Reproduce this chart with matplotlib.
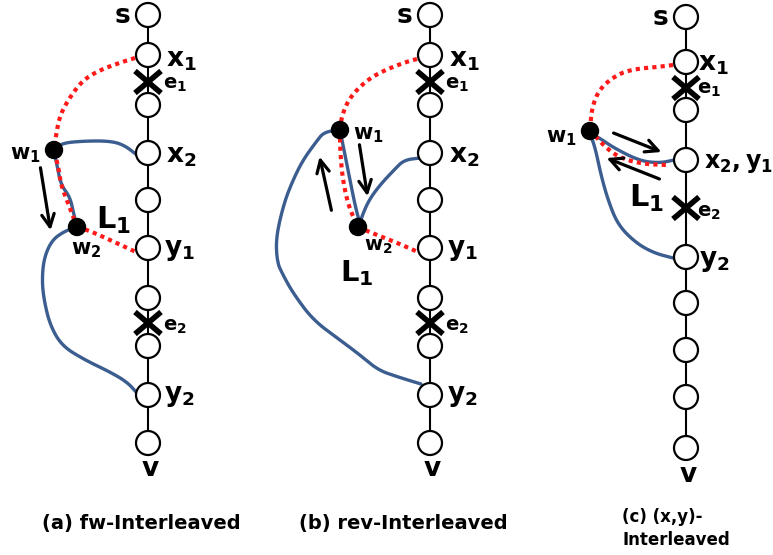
import matplotlib
matplotlib.use("Agg")
import matplotlib.pyplot as plt
from matplotlib.patches import Circle

plt.rcParams['mathtext.fontset'] = 'dejavusans'
plt.rcParams['font.family'] = ['DejaVu Sans']

BLUE = '#3b5d8f'
RED = '#ff1a1a'

# vertical paths (x of spine, y of each node)
spine_x = [148, 430, 686]
nodes_a = [15, 55, 105, 153, 200, 248, 298, 346, 395, 443]
nodes_b = [15, 55, 105, 153, 200, 248, 298, 346, 395, 443]
nodes_c = [17, 62, 110, 160, 257, 303, 350, 397, 448]
crosses = [(148, 82), (148, 323), (430, 82), (430, 323), (686, 88), (686, 208)]

# detours, drawn as (x, y) pixel traces
red_a = [
    [(135, 58), (122, 62), (100, 70), (83, 80), (70, 97), (60, 115), (56, 135), (54, 152)],
    [(54, 152), (58, 165), (61, 185), (68, 203), (77, 227)],
    [(77, 227), (90, 231), (110, 240), (136, 252)],
]
blue_a = [
    [(54, 150), (62, 143), (85, 141), (110, 141), (124, 145), (137, 155)],
    [(54, 152), (57, 165), (61, 185), (70, 197), (74, 215), (77, 227)],
    [(77, 227), (65, 231), (52, 240), (44, 258), (42, 280), (44, 300), (50, 325),
     (62, 346), (85, 360), (110, 372), (127, 382), (137, 393)],
]
red_b = [
    [(417, 59), (406, 62), (385, 70), (367, 80), (350, 97), (342, 115), (340, 130)],
    [(340, 130), (340, 145), (342, 175), (348, 205), (358, 227)],
    [(358, 227), (372, 233), (395, 242), (418, 252)],
]
blue_b = [
    [(420, 158), (404, 160), (394, 170), (380, 185), (369, 200), (362, 216), (360, 224)],
    [(360, 224), (355, 205), (350, 180), (346, 160), (343, 145), (340, 130)],
    [(340, 130), (324, 132), (316, 142), (303, 160), (293, 180), (284, 203), (276, 237),
     (277, 262), (283, 275), (293, 293), (313, 320), (340, 340), (360, 355), (378, 370),
     (398, 377), (421, 384)],
]
red_c = [
    [(673, 65), (657, 67), (635, 69), (618, 74), (600, 88), (592, 107), (590, 130)],
    [(590, 130), (605, 147), (620, 158), (643, 164), (667, 165)],
]
blue_c = [
    [(674, 160), (660, 163), (640, 161), (614, 148), (598, 137), (590, 134)],
    [(590, 134), (595, 147), (601, 175), (608, 200), (618, 225), (636, 243), (654, 253),
     (673, 258)],
]

dots = [(54, 150), (77, 227), (340, 130), (358, 227), (590, 131)]
arrows = [((40, 165), (51, 233)),
          ((332, 213), (319, 154)), ((359, 142), (368, 199)),
          ((611, 132), (664, 153)), ((662, 180), (604, 157))]

# labels: (text, x, y, size)
labels = [
    (r'$\mathbf{s}$', 114, 16, 19),
    (r'$\mathbf{x_1}$', 166, 60, 19), (r'$\mathbf{e_1}$', 163, 85, 14),
    (r'$\mathbf{x_2}$', 166, 156, 19), (r'$\mathbf{y_1}$', 164, 250, 19),
    (r'$\mathbf{e_2}$', 163, 326, 14), (r'$\mathbf{y_2}$', 164, 396, 19),
    (r'$\mathbf{v}$', 141, 469, 19),
    (r'$\mathbf{w_1}$', 10, 155, 15), (r'$\mathbf{w_2}$', 71, 250, 15),
    (r'$\mathbf{L_1}$', 96, 220, 22),
    (r'$\mathbf{s}$', 396, 16, 19),
    (r'$\mathbf{x_1}$', 449, 60, 19), (r'$\mathbf{e_1}$', 445, 85, 14),
    (r'$\mathbf{x_2}$', 449, 156, 19), (r'$\mathbf{y_1}$', 447, 250, 19),
    (r'$\mathbf{e_2}$', 445, 326, 14), (r'$\mathbf{y_2}$', 447, 396, 19),
    (r'$\mathbf{v}$', 423, 469, 19),
    (r'$\mathbf{w_1}$', 353, 135, 15), (r'$\mathbf{w_2}$', 364, 246, 14),
    (r'$\mathbf{L_1}$', 340, 273, 21),
    (r'$\mathbf{s}$', 652, 18, 19),
    (r'$\mathbf{x_1}$', 698, 64, 19), (r'$\mathbf{e_1}$', 697, 90, 14),
    (r'$\mathbf{x_2,y_1}$', 704, 163, 17),
    (r'$\mathbf{e_2}$', 697, 213, 14), (r'$\mathbf{y_2}$', 699, 261, 19),
    (r'$\mathbf{v}$', 679, 475, 19),
    (r'$\mathbf{w_1}$', 546, 138, 15),
    (r'$\mathbf{L_1}$', 629, 198, 22),
]


def smooth(pts, n=3):
    # corner cutting so the hand-drawn traces bend softly
    for _ in range(n):
        out = [pts[0]]
        for (x0, y0), (x1, y1) in zip(pts[:-1], pts[1:]):
            out.append((0.75 * x0 + 0.25 * x1, 0.75 * y0 + 0.25 * y1))
            out.append((0.25 * x0 + 0.75 * x1, 0.25 * y0 + 0.75 * y1))
        out.append(pts[-1])
        pts = out
    return pts


fig = plt.figure(figsize=(7.73, 5.55), dpi=100)
ax = fig.add_axes([0, 0, 1, 1])
ax.set_xlim(0, 773)
ax.set_ylim(555, 0)
ax.axis('off')

for sx, ys in zip(spine_x, [nodes_a, nodes_b, nodes_c]):
    ax.plot([sx, sx], [ys[0], ys[-1]], color='black', lw=1.5, zorder=1)
    for y in ys:
        ax.add_patch(Circle((sx, y), 12, facecolor='white', edgecolor='black', lw=1.6, zorder=4))

for cx, cy in crosses:
    ax.plot([cx - 13, cx + 13], [cy - 11, cy + 11], color='black', lw=4, zorder=5, solid_capstyle='butt')
    ax.plot([cx - 13, cx + 13], [cy + 11, cy - 11], color='black', lw=4, zorder=5, solid_capstyle='butt')

for seg in blue_a + blue_b + blue_c:
    xs, ys = zip(*smooth(seg))
    ax.plot(xs, ys, color=BLUE, lw=2.4, zorder=2, solid_capstyle='round')
for seg in red_a + red_b + red_c:
    xs, ys = zip(*smooth(seg))
    ax.plot(xs, ys, color=RED, lw=3, ls=(0, (1, 1)), zorder=3)

for x, y in dots:
    ax.add_patch(Circle((x, y), 8.5, facecolor='black', edgecolor='black', zorder=6))

for (x0, y0), (x1, y1) in arrows:
    ax.annotate('', xy=(x1, y1), xytext=(x0, y0),
                arrowprops=dict(arrowstyle='->,head_length=0.9,head_width=0.45', lw=2.3, color='black'),
                zorder=7)

for t, x, y, s in labels:
    ax.text(x, y, t, fontsize=s, ha='left', va='center', zorder=8)

ax.text(141, 523, '(a) fw-Interleaved', fontsize=14, fontweight='bold', ha='center', va='center')
ax.text(403, 523, '(b) rev-Interleaved', fontsize=14, fontweight='bold', ha='center', va='center')
ax.text(622, 517, '(c) (x,y)-', fontsize=12, fontweight='bold', ha='left', va='center')
ax.text(622, 540, 'Interleaved', fontsize=12, fontweight='bold', ha='left', va='center')

fig.savefig('out.png', dpi=100)
